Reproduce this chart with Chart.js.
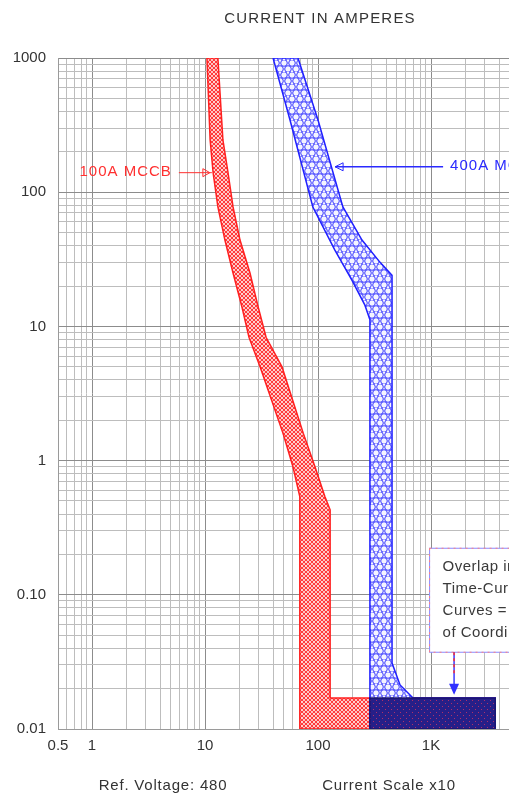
<!DOCTYPE html>
<html><head><meta charset="utf-8">
<script src="https://cdn.jsdelivr.net/npm/chart.js@4.4.1/dist/chart.umd.min.js"></script>
<style>html,body{margin:0;padding:0;background:#fff;overflow:hidden}#wrap{position:relative;width:509px;height:796px}canvas{display:block}</style>
</head><body><div id="wrap"><canvas id="c" width="509" height="796" style="width:509px;height:796px"></canvas></div>
<script>
// ---- text ----
const TITLE = 'CURRENT IN AMPERES';
const FOOT_LEFT = 'Ref. Voltage: 480';
const FOOT_RIGHT = 'Current Scale x10';
const RED_LABEL = '100A MCCB';
const BLUE_LABEL = '400A MCCB';
const NOTE_LINES = ['Overlap in', 'Time-Current', 'Curves =', 'of Coordination'];

// ---- axes ----
const X_MIN = 0.5, X_MAX = 4900;
const Y_MIN = 0.01, Y_MAX = 1000;
const xTickValues = [0.5, 1, 10, 100, 1000];
const xTickLabels = ['0.5', '1', '10', '100', '1K'];
const yTickValues = [0.01, 0.1, 1, 10, 100, 1000];
const yTickLabels = ['0.01', '0.10', '1', '10', '100', '1000'];

// ---- 100A MCCB band (current A, time s), closed outline ----
const redCurrent = [10.4, 11.1, 11.8, 13.0, 15.0, 17.7, 21.2, 24.5, 30.7, 49, 60, 69, 69, 3700, 3700, 128, 128, 115, 94, 74, 48, 34.7, 29.5, 25, 20.4, 17.7, 16.0, 14.4, 13.0, 10.4];
const redTime    = [1000, 245, 139, 77.6, 44, 25, 14, 8.3, 5.0, 1.6, 0.9, 0.54, 0.01, 0.01, 0.017, 0.017, 0.43, 0.54, 0.9, 1.6, 5.0, 8.3, 14, 25, 44, 77.6, 139, 245, 1000, 1000];

// ---- 400A MCCB band ----
const blueCurrent = [40, 56.5, 90, 141, 200, 260, 288, 288, 3700, 3700, 693, 532, 452, 452, 354, 245, 166, 100, 66.5, 40];
const blueTime    = [1000, 345, 77.6, 37, 22, 14.4, 11.2, 0.01, 0.01, 0.017, 0.017, 0.0213, 0.031, 24, 30, 44, 77.6, 345, 1000, 1000];

// ---- overlap region ----
const overlapCurrent = [288, 3700, 3700, 288, 288];
const overlapTime    = [0.01, 0.01, 0.017, 0.017, 0.01];

// ---- annotation anchors (data coords) ----
const redArrowAt = {current: 11.5, time: 141};
const blueArrowAt = {current: 136, time: 156};
const noteArrowAt = {current: 1600, time: 0.018};

function pts(xs, ys){ return xs.map((x,i)=>({x, y: ys[i]})); }
function logTicks(min, max){
  const out = [];
  for (let e = -3; e <= 4; e++) for (let m = 1; m <= 9; m++) {
    const v = Number((m*Math.pow(10,e)).toPrecision(6));
    if (v >= min*0.999 && v <= max*1.001) out.push(v);
  }
  if (out[0] > min) out.unshift(min);
  return out;
}
function near(a,b){ return Math.abs(a-b) <= Math.abs(b)*1e-6; }
function isDecade(v){ const l = Math.log10(v); return Math.abs(l-Math.round(l)) < 1e-6; }
function labelFor(v, vals, labs){ for (let i=0;i<vals.length;i++) if (near(v, vals[i])) return labs[i]; return ''; }

function makePattern(w, h, draw){
  const c = document.createElement('canvas'); c.width = w; c.height = h;
  const g = c.getContext('2d'); draw(g, w, h);
  return g.createPattern(c, 'repeat');
}
const redPattern = makePattern(4, 4, (g,w,h)=>{
  g.fillStyle = '#ffeaea'; g.fillRect(0,0,w,h);
  g.strokeStyle = '#ff3030'; g.lineWidth = 1;
  g.beginPath(); g.arc(2,2,1.6,0,Math.PI*2); g.stroke();
});
const bluePattern = makePattern(8, 12, (g,w,h)=>{
  g.fillStyle = '#f4f4ff'; g.fillRect(0,0,w,h);
  g.strokeStyle = '#3a3aff'; g.lineWidth = 1;
  [[4,3],[0,9],[8,9]].forEach(([x,y])=>{ g.beginPath(); g.arc(x,y,3.3,0,Math.PI*2); g.stroke(); });
});
const overlapPattern = makePattern(6, 6, (g,w,h)=>{
  g.fillStyle = '#261f88'; g.fillRect(0,0,w,h);
  g.fillStyle = '#b0306a'; g.fillRect(1,1,1,1); g.fillRect(4,4,1,1);
});

const FONT = '"Liberation Sans", Arial, sans-serif';

function spaced(ctx, px){ if ('letterSpacing' in ctx) ctx.letterSpacing = px + 'px'; }

const annot = {
  id: 'annot',
  afterDatasetsDraw(chart){
    const {ctx} = chart; const xs = chart.scales.x, ys = chart.scales.y;
    ctx.save();
    // red arrow + label
    let tx = xs.getPixelForValue(redArrowAt.current), ty = ys.getPixelForValue(redArrowAt.time);
    ctx.strokeStyle = '#ff3030'; ctx.lineWidth = 1;
    ctx.beginPath(); ctx.moveTo(tx-33, ty+0.5); ctx.lineTo(tx, ty+0.5); ctx.stroke();
    ctx.beginPath(); ctx.moveTo(tx-9, ty-3.5); ctx.lineTo(tx-2, ty+0.5); ctx.lineTo(tx-9, ty+4.5); ctx.closePath(); ctx.stroke();
    ctx.fillStyle = '#ff3030'; ctx.font = '15px ' + FONT; ctx.textAlign = 'right'; ctx.textBaseline = 'middle';
    spaced(ctx, 1);
    ctx.fillText(RED_LABEL, tx-40, ty);
    // blue arrow + label
    tx = xs.getPixelForValue(blueArrowAt.current); ty = ys.getPixelForValue(blueArrowAt.time);
    ctx.strokeStyle = '#2a2aff'; ctx.lineWidth = 1.5;
    ctx.beginPath(); ctx.moveTo(tx+2, ty+0.5); ctx.lineTo(tx+110, ty+0.5); ctx.stroke();
    ctx.lineWidth = 1;
    ctx.beginPath(); ctx.moveTo(tx+10, ty-3.5); ctx.lineTo(tx+2, ty+0.5); ctx.lineTo(tx+10, ty+4.5); ctx.closePath(); ctx.stroke();
    ctx.fillStyle = '#2a2aff'; ctx.textAlign = 'left';
    ctx.fillText(BLUE_LABEL, tx+117, ty);
    // overlap note
    tx = xs.getPixelForValue(noteArrowAt.current); ty = ys.getPixelForValue(noteArrowAt.time);
    const bx = tx-24.5, by = ty-146.5, bb = ty-42.5;
    ctx.fillStyle = '#ffffff'; ctx.fillRect(bx, by, 200, bb-by);
    ctx.strokeStyle = '#8a8aff'; ctx.lineWidth = 1; ctx.strokeRect(bx, by, 200, bb-by);
    ctx.setLineDash([2,4]); ctx.strokeStyle = '#ff8080'; ctx.strokeRect(bx, by, 200, bb-by); ctx.setLineDash([]);
    ctx.fillStyle = '#3a3a3a'; ctx.font = '15px ' + FONT; ctx.textAlign = 'left'; ctx.textBaseline = 'middle';
    spaced(ctx, 0.5);
    NOTE_LINES.forEach((t,i)=>ctx.fillText(t, bx+13, by+19 + i*22));
    ctx.strokeStyle = '#3a3aff'; ctx.lineWidth = 1.5;
    ctx.beginPath(); ctx.moveTo(tx, bb); ctx.lineTo(tx, ty-8); ctx.stroke();
    ctx.strokeStyle = '#ff3030'; ctx.setLineDash([3,3]);
    ctx.beginPath(); ctx.moveTo(tx, bb); ctx.lineTo(tx, ty-20); ctx.stroke(); ctx.setLineDash([]);
    ctx.fillStyle = '#3030ff';
    ctx.beginPath(); ctx.moveTo(tx-5, ty-11); ctx.lineTo(tx+5, ty-11); ctx.lineTo(tx, ty); ctx.closePath(); ctx.fill();
    ctx.restore();
  },
  afterDraw(chart){
    const {ctx} = chart;
    ctx.save();
    ctx.fillStyle = '#333'; ctx.textBaseline = 'middle'; ctx.textAlign = 'center';
    ctx.font = '15px ' + FONT; spaced(ctx, 1.2);
    ctx.fillText(TITLE, 320, 19);
    ctx.font = '15px ' + FONT; spaced(ctx, 0.8);
    ctx.fillText(FOOT_LEFT, 163, 786);
    ctx.fillText(FOOT_RIGHT, 389, 786);
    ctx.restore();
  }
};

const gridColor = c => isDecade(c.tick.value) ? '#8c8c8c' : '#bdbdbd';

new Chart(document.getElementById('c'), {
  type: 'scatter',
  data: { datasets: [
    { data: pts(overlapCurrent, overlapTime), showLine: true, fill: 'shape', backgroundColor: overlapPattern, borderColor: '#1a1470', borderWidth: 1.5, pointRadius: 0, tension: 0 },
    { data: pts(blueCurrent, blueTime), showLine: true, fill: 'shape', backgroundColor: bluePattern, borderColor: '#2020ff', borderWidth: 1.5, pointRadius: 0, tension: 0 },
    { data: pts(redCurrent, redTime), showLine: true, fill: 'shape', backgroundColor: redPattern, borderColor: '#ff2020', borderWidth: 1.5, pointRadius: 0, tension: 0 }
  ]},
  options: {
    responsive: false, animation: false, devicePixelRatio: 1,
    layout: { padding: { top: 58, left: 0, right: 0, bottom: 0 } },
    plugins: { legend: { display: false }, tooltip: { enabled: false } },
    scales: {
      x: { type: 'logarithmic', min: X_MIN, max: X_MAX,
        afterBuildTicks: s => { s.ticks = logTicks(X_MIN, X_MAX).map(v=>({value: v, major: isDecade(v)})); },
        afterFit: s => { s.height = 67; },
        grid: { color: gridColor, lineWidth: 1, drawTicks: false },
        border: { color: '#9a9a9a' },
        ticks: { autoSkip: false, maxRotation: 0, minRotation: 0, padding: 8, color: '#333', font: { family: FONT, size: 15 },
          callback: v => labelFor(v, xTickValues, xTickLabels) } },
      y: { type: 'logarithmic', min: Y_MIN, max: Y_MAX,
        afterBuildTicks: s => { s.ticks = logTicks(Y_MIN, Y_MAX).map(v=>({value: v, major: isDecade(v)})); },
        afterFit: s => { s.width = 58; },
        grid: { color: gridColor, lineWidth: 1, drawTicks: false },
        border: { color: '#9a9a9a' },
        ticks: { autoSkip: false, padding: 12, color: '#333', font: { family: FONT, size: 15 },
          callback: v => labelFor(v, yTickValues, yTickLabels) } }
    }
  },
  plugins: [annot]
});
</script>
</body></html>
